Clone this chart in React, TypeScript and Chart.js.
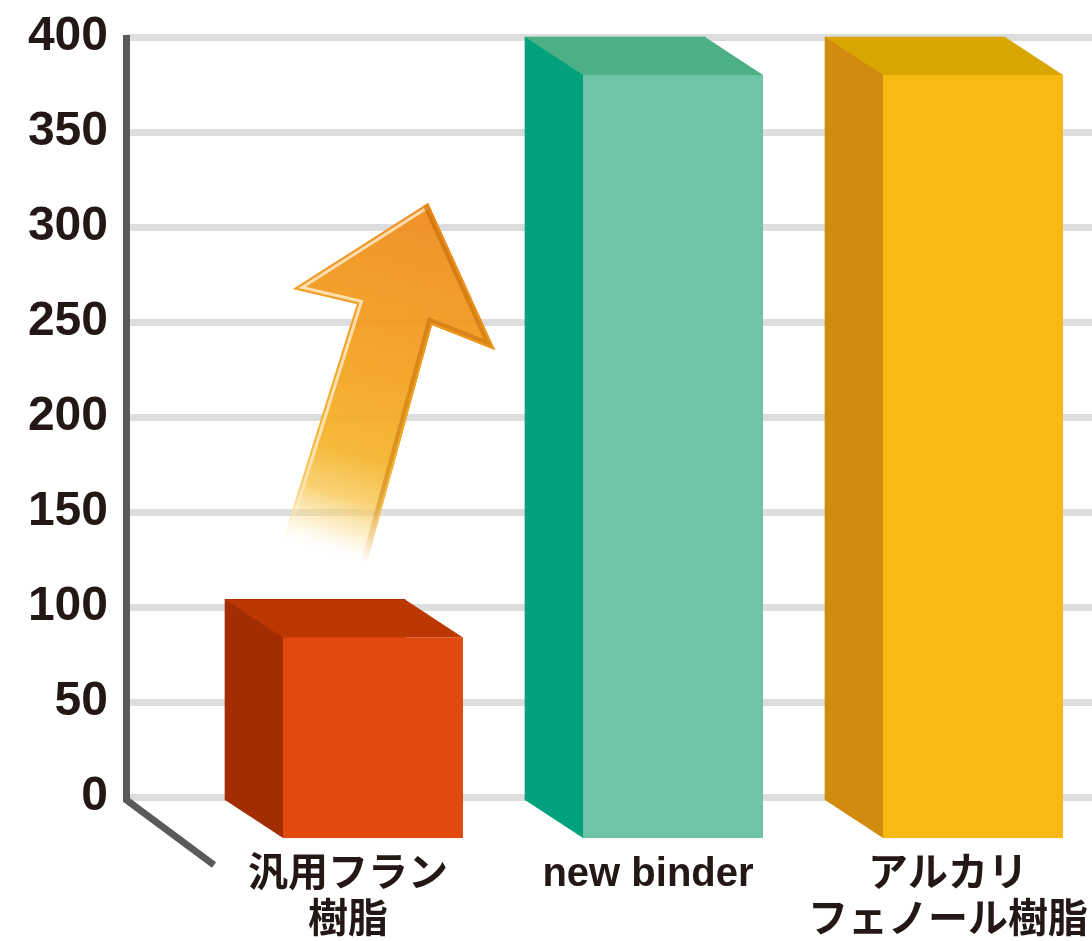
import { useEffect, useRef } from "react";
import { Chart, registerables } from "chart.js";

Chart.register(...registerables);

// ---- data ----
const categories: string[][] = [["汎用フラン", "樹脂"], ["new binder"], ["アルカリ", "フェノール樹脂"]];
const values: number[] = [104, 400, 400];
const yMin = 0;
const yMax = 400;
const yStep = 50;

// ---- styles ----
const frontColors = ["#e2490f", "#6fc4a7", "#f8b912"];
const topColors = ["#bc3803", "#4daf86", "#d9a500"];
const sideColors = ["#a22d00", "#00a27e", "#d18c0f"];
const TEXT = "#231815";
const FONT = "'Liberation Sans', 'Noto Sans CJK JP', sans-serif";
const DEPTH_X = 58;
const DEPTH_Y = 38;

// decorative arrow, in data units (x: category index, y: value)
const arrowShape: number[][] = [
  [0.377, 312.6],
  [0.6, 235.3],
  [0.39, 248.4],
  [0.173, 123.2],
  [-0.107, 135.3],
  [0.14, 259.5],
  [-0.073, 267.4],
];

function poly(ctx: CanvasRenderingContext2D, pts: number[][]) {
  ctx.beginPath();
  ctx.moveTo(pts[0][0], pts[0][1]);
  for (let i = 1; i < pts.length; i++) ctx.lineTo(pts[i][0], pts[i][1]);
  ctx.closePath();
}

const bar3dPlugin = {
  id: "bar3d",
  afterDatasetsDraw(chart: any) {
    const ctx: CanvasRenderingContext2D = chart.ctx;
    const meta = chart.getDatasetMeta(0);
    meta.data.forEach((el: any, i: number) => {
      const { x, y, base, width } = el.getProps(["x", "y", "base", "width"], true);
      const l = x - width / 2;
      const r = x + width / 2;
      ctx.save();
      ctx.fillStyle = sideColors[i];
      poly(ctx, [[l, y], [l + DEPTH_X, y + DEPTH_Y], [l + DEPTH_X, base + DEPTH_Y], [l, base]]);
      ctx.fill();
      ctx.fillStyle = topColors[i];
      poly(ctx, [[l, y], [r, y], [r + DEPTH_X, y + DEPTH_Y], [l + DEPTH_X, y + DEPTH_Y]]);
      ctx.fill();
      ctx.fillStyle = frontColors[i];
      ctx.fillRect(l + DEPTH_X, y + DEPTH_Y, width, base - y);
      ctx.restore();
    });

    // arrow
    const xs = chart.scales.x;
    const ys = chart.scales.y;
    const p = arrowShape.map(([a, b]) => [xs.getPixelForValue(a), ys.getPixelForValue(b)]);
    const tip = p[0];
    const bot = [(p[3][0] + p[4][0]) / 2, (p[3][1] + p[4][1]) / 2];
    const g = ctx.createLinearGradient(tip[0], tip[1], bot[0], bot[1]);
    g.addColorStop(0, "#ee891a");
    g.addColorStop(0.5, "#f3a21e");
    g.addColorStop(0.72, "#f5b42c");
    g.addColorStop(0.84, "rgba(247,198,80,0.85)");
    g.addColorStop(0.93, "rgba(250,220,140,0.45)");
    g.addColorStop(1, "rgba(255,245,220,0)");
    const hl = ctx.createLinearGradient(tip[0], tip[1], bot[0], bot[1]);
    hl.addColorStop(0, "rgba(255,225,180,1)");
    hl.addColorStop(0.75, "rgba(255,235,200,0.9)");
    hl.addColorStop(1, "rgba(255,255,255,0)");
    const dk = ctx.createLinearGradient(tip[0], tip[1], bot[0], bot[1]);
    dk.addColorStop(0, "rgba(200,110,10,0.75)");
    dk.addColorStop(0.8, "rgba(200,120,10,0.55)");
    dk.addColorStop(1, "rgba(200,120,10,0)");

    ctx.save();
    ctx.globalAlpha = 0.93;
    poly(ctx, p);
    ctx.fillStyle = g;
    ctx.fill();
    ctx.clip();
    ctx.lineJoin = "miter";
    // light highlight on the left edges
    ctx.beginPath();
    ctx.moveTo(p[4][0], p[4][1]);
    ctx.lineTo(p[5][0], p[5][1]);
    ctx.lineTo(p[6][0], p[6][1]);
    ctx.lineTo(p[0][0], p[0][1]);
    ctx.strokeStyle = hl;
    ctx.lineWidth = 10;
    ctx.stroke();
    // dark shade on the right edges
    ctx.beginPath();
    ctx.moveTo(p[0][0], p[0][1]);
    ctx.lineTo(p[1][0], p[1][1]);
    ctx.lineTo(p[2][0], p[2][1]);
    ctx.lineTo(p[3][0], p[3][1]);
    ctx.strokeStyle = dk;
    ctx.lineWidth = 12;
    ctx.stroke();
    // thin outer border
    poly(ctx, p);
    ctx.strokeStyle = g;
    ctx.lineWidth = 4;
    ctx.stroke();
    ctx.restore();
  },
  afterDraw(chart: any) {
    const ctx: CanvasRenderingContext2D = chart.ctx;
    const { left, top, bottom } = chart.chartArea;
    const ax = left - 0.5;
    ctx.save();
    ctx.strokeStyle = "#5a5a5a";
    ctx.lineWidth = 7;
    ctx.lineJoin = "miter";
    ctx.lineCap = "butt";
    ctx.beginPath();
    ctx.moveTo(ax, top - 2);
    ctx.lineTo(ax, bottom + 3);
    ctx.lineTo(ax + 87.5, bottom + 68);
    ctx.stroke();
    ctx.restore();
  },
};

export default function App() {
  const ref = useRef<HTMLCanvasElement | null>(null);

  useEffect(() => {
    document.body.style.margin = "0";
    const canvas = ref.current;
    if (!canvas) return;
    const chart = new Chart(canvas, {
      type: "bar",
      data: {
        datasets: [
          {
            data: values.map((v, i) => ({ x: i, y: v })),
            backgroundColor: sideColors,
            borderWidth: 0,
            barThickness: 180,
            base: -1.6,
            clip: false as any,
          },
        ],
      },
      options: {
        responsive: false,
        animation: false,
        devicePixelRatio: 1,
        layout: { padding: { top: 37, left: 0, right: 0, bottom: 0 } },
        plugins: {
          legend: { display: false },
          tooltip: { enabled: false },
        },
        scales: {
          x: {
            type: "linear",
            offset: false,
            min: -0.6267,
            max: 2.59,
            grid: { display: false, drawTicks: false },
            border: { display: false },
            afterBuildTicks: (scale: any) => {
              scale.ticks = categories.map((_, i) => ({ value: i }));
            },
            afterFit: (scale: any) => {
              scale.height = 144;
              scale.paddingLeft = 0;
              scale.paddingRight = 0;
            },
            ticks: {
              autoSkip: false,
              maxRotation: 0,
              minRotation: 0,
              padding: 55,
              labelOffset: 33,
              color: TEXT,
              font: { family: FONT, size: 40, weight: "bold", lineHeight: 1.15 },
              callback: (v: any) => categories[Math.round(Number(v))] ?? "",
            },
          },
          y: {
            min: yMin,
            max: yMax,
            grid: { color: "#dcdddd", lineWidth: 7, drawTicks: false },
            border: { display: false },
            afterFit: (scale: any) => {
              scale.width = 127;
              scale.paddingTop = 0;
              scale.paddingBottom = 0;
            },
            ticks: {
              stepSize: yStep,
              padding: 19,
              color: TEXT,
              font: { family: FONT, size: 48, weight: "bold" },
            },
          },
        },
      },
      plugins: [bar3dPlugin],
    } as any);
    return () => chart.destroy();
  }, []);

  return (
    <div style={{ position: "absolute", left: 0, top: 0, width: 1092, height: 941, background: "#fff" }}>
      <canvas ref={ref} width={1092} height={941} style={{ display: "block" }} />
    </div>
  );
}
